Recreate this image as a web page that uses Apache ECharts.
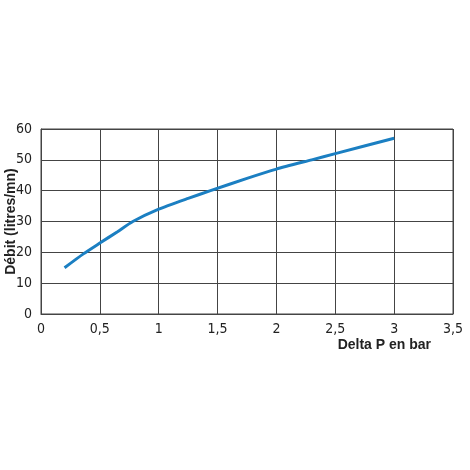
<!DOCTYPE html>
<html>
<head>
<meta charset="utf-8">
<script src="https://cdn.jsdelivr.net/npm/echarts@6/dist/echarts.min.js"></script>
<style>
  html, body { margin: 0; padding: 0; background: #fff; }
  #chart { width: 470px; height: 470px; }
</style>
</head>
<body>
<div id="chart"></div>
<script>
// courbe débit / delta P
var deltaP = [0.2, 0.36, 0.5, 0.65, 0.78, 1, 1.25, 1.44, 1.75, 2, 2.3, 2.5, 3];
var debit = [15, 19.5, 23, 26.7, 30, 34, 37.5, 40, 44, 47, 50, 52, 57];

var points = deltaP.map(function (x, i) { return [x, debit[i]]; });

var labelFont = '"Liberation Sans Narrow", "DejaVu Sans Condensed", "Liberation Sans", sans-serif';

var chart = echarts.init(document.getElementById('chart'));
var option = {
    backgroundColor: '#ffffff',
    animation: false,
    grid: {
        left: 41,
        right: 17,
        top: 129,
        bottom: 156,
        outerBoundsMode: 'none',
        containLabel: false,
        show: true,
        borderColor: '#444444',
        borderWidth: 1
    },
    xAxis: {
        type: 'value',
        min: 0,
        max: 3.5,
        interval: 0.5,
        name: 'Delta P en bar',
        nameLocation: 'end',
        nameGap: -22,
        nameMoveOverlap: false,
        nameTextStyle: {
            fontFamily: 'Liberation Sans',
            fontWeight: 'bold',
            fontSize: 14,
            color: '#222222',
            align: 'right',
            verticalAlign: 'top',
            padding: [24, 0, 0, 0]
        },
        axisTick: { show: false },
        axisLine: { lineStyle: { color: '#444444', width: 1 } },
        axisLabel: {
            margin: 8,
            fontFamily: labelFont,
            fontSize: 14,
            color: '#222222',
            formatter: function (v) { return String(v).replace('.', ','); }
        },
        splitLine: { show: true, lineStyle: { color: '#444444', width: 1 } }
    },
    yAxis: {
        type: 'value',
        min: 0,
        max: 60,
        interval: 10,
        name: 'Débit (litres/mn)',
        nameLocation: 'middle',
        nameGap: 23,
        nameMoveOverlap: false,
        nameTextStyle: {
            fontFamily: 'Liberation Sans',
            fontWeight: 'bold',
            fontSize: 14,
            color: '#222222'
        },
        axisTick: { show: false },
        axisLine: { show: true, lineStyle: { color: '#444444', width: 1 } },
        axisLabel: {
            margin: 9,
            fontFamily: labelFont,
            fontSize: 14,
            color: '#222222'
        },
        splitLine: { show: true, lineStyle: { color: '#444444', width: 1 } }
    },
    series: [
        {
            type: 'line',
            data: points,
            smooth: 0.2,
            symbol: 'none',
            lineStyle: { color: '#1b7fc2', width: 3 }
        }
    ]
};
chart.setOption(option);
</script>
</body>
</html>
